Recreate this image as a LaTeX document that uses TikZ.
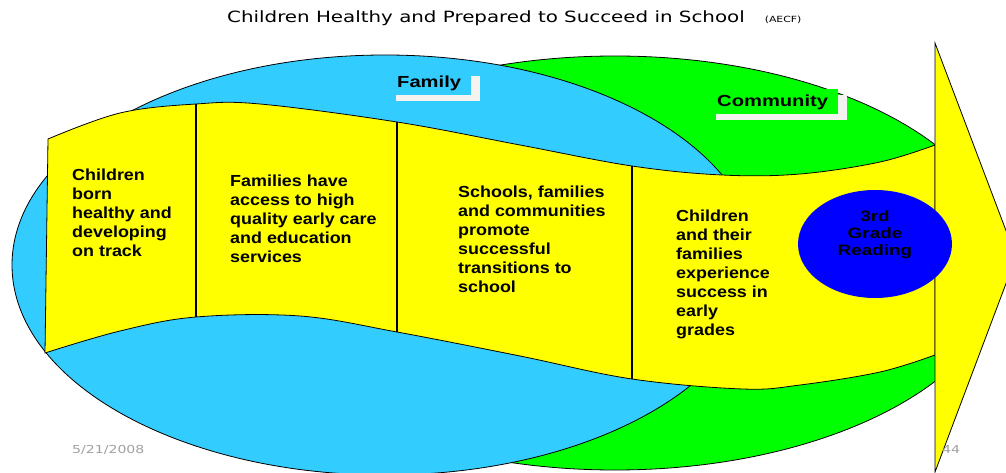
\documentclass[tikz,border=0pt]{standalone}
\usepackage{fontspec}
\setmainfont{Liberation Sans}
\newfontfamily\bodyfont[FakeStretch=1.12]{Liberation Sans}
\newfontfamily\labelfont[FakeStretch=1.26]{Liberation Sans}
\newfontfamily\titlefont[FakeStretch=1.28]{DejaVu Sans}
\usepackage{xcolor}
\usetikzlibrary{shapes.geometric,shadows}

\definecolor{familyblue}{HTML}{33CCFF}
\definecolor{communitygreen}{HTML}{00FF00}
\definecolor{bandyellow}{HTML}{FFFF00}
\definecolor{goalblue}{HTML}{0000FF}
\definecolor{shadowwhite}{HTML}{F4F3EF}
\definecolor{footgrey}{HTML}{A0A0A0}

\begin{document}
\begin{tikzpicture}[
  x=1pt, y=-1pt,
  outline/.style={draw=black, line width=0.8pt},
  divider/.style={draw=black, line width=2pt},
  tag/.style={font={\labelfont\bfseries\fontsize{16}{19}\selectfont},
              anchor=base west, inner xsep=10pt, inner ysep=3pt,
              text height=15pt, text depth=4pt,
              general shadow={fill=shadowwhite, shadow xshift=9pt, shadow yshift=-6pt}},
  stage/.style={font={\bodyfont\bfseries\fontsize{16}{19}\selectfont},
                anchor=north west, inner sep=0pt, align=left},
  goal/.style={ellipse, fill=goalblue, inner sep=0pt,
               minimum width=154pt, minimum height=108pt},
  goaltext/.style={font={\labelfont\bfseries\fontsize{15}{17}\selectfont},
                   align=center, inner sep=0pt},
  heading/.style={font={\titlefont\fontsize{15.5}{18}\selectfont},
                  anchor=base west, inner sep=0pt},
  foot/.style={font={\titlefont\fontsize{11}{13}\selectfont}, text=footgrey,
               anchor=base west, inner sep=0pt}
]
\useasboundingbox (0,0) rectangle (1006,473);

\node[heading] (title) at (227,23)
  {Children Healthy and Prepared to Succeed in School\hspace{20pt}{\fontsize{8.5}{10}\selectfont(AECF)}};

\draw[outline, fill=communitygreen] (615,263) ellipse [x radius=390, y radius=207];
\draw[outline, fill=familyblue] (385,265) ellipse [x radius=373, y radius=210];

\node[tag, fill=familyblue] (family) at (387,88) {Family};
\node[tag, fill=communitygreen] (community) at (707,107) {Community};

\draw[outline, fill=bandyellow]
  plot[smooth, tension=0.6] coordinates {(48,139) (120,113) (196,104) (260,104)
    (397,122) (520,145) (632,166) (722,175) (800,174) (880,162) (935,145)}
  -- plot[smooth, tension=0.6] coordinates {(935,355) (880,372) (800,385)
    (743,389) (632,379) (520,356) (397,332) (300,316) (196,317) (120,331) (45,353)}
  -- cycle;

\draw[divider] (196,104) -- (196,317);
\draw[divider] (397,122) -- (397,332);
\draw[divider] (632,166) -- (632,379);

\node[stage] (born) at (72,169)
  {Children\\born\\healthy and\\developing\\on track};
\node[stage] (access) at (230,175)
  {Families have\\access to high\\quality early care\\and education\\services};
\node[stage] (transition) at (458,186)
  {Schools, families\\and communities\\promote\\successful\\transitions to\\school};
\node[stage] (success) at (676,210)
  {Children\\and their\\families\\experience\\success in\\early\\grades};

\draw[outline, fill=bandyellow] (935,43) -- (1016,257) -- (935,472) -- cycle;

\node[goal] (reading) at (875,244) {};
\node[goaltext] (readingtext) at (875,235) {3rd\\Grade\\Reading};

\node[foot] (date) at (72,453) {5/21/2008};
\node[foot] (page) at (942,453) {44};
\end{tikzpicture}
\end{document}
